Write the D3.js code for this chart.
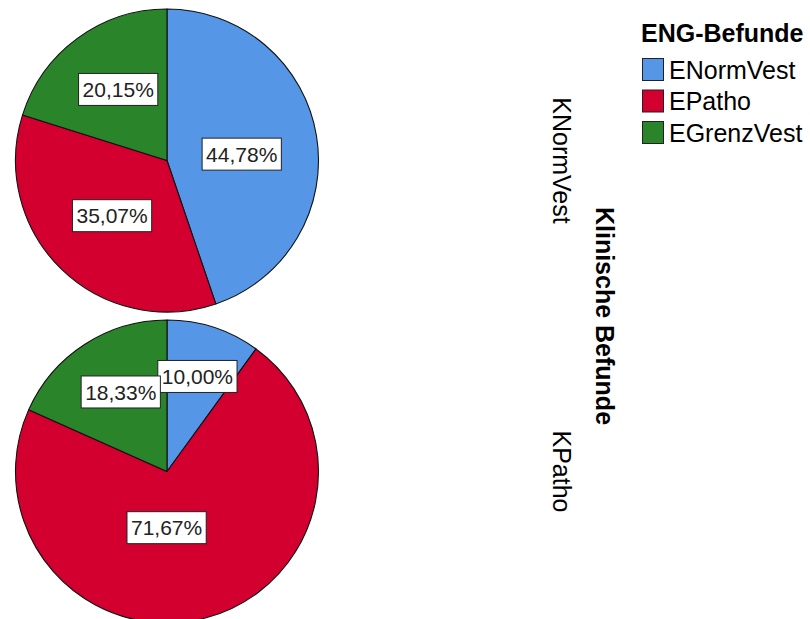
<!DOCTYPE html>
<html>
<head>
<meta charset="utf-8">
<script src="https://cdn.jsdelivr.net/npm/d3@7"></script>
<style>
  html, body { margin: 0; padding: 0; background: #fff; }
  svg { display: block; font-family: Arial, "Liberation Sans", sans-serif; }
</style>
</head>
<body>
<svg id="chart" width="810" height="619"></svg>
<script>
// Clinical findings (one pie per row) and ENG findings (slices)
const clinicalGroups = ["KNormVest", "KPatho"];
const engCategories = ["ENormVest", "EPatho", "EGrenzVest"];
// Percent shares per clinical group, in engCategories order
const sharesKNormVest = [44.78, 35.07, 20.15];
const sharesKPatho = [10.00, 71.67, 18.33];
const groupShares = [sharesKNormVest, sharesKPatho];

const legendTitle = "ENG-Befunde";
const rowAxisTitle = "Klinische Befunde";

// Styling / layout
const colors = ["#5596e6", "#d3002f", "#2a852a"];
const radius = 151.5;
const pieCx = 167;
// small offsets that keep the value boxes from colliding
const labelNudge = [
  [[0, 6], [-2, 1], [-4, -10]],
  [[7, -23], [-20, -17], [-5, -16]]
];

const svg = d3.select("#chart");

const color = d3.scaleOrdinal().domain(engCategories).range(colors);
const rowY = d3.scalePoint().domain(clinicalGroups).range([160.5, 471.5]);

const pie = d3.pie().sort(null).value(d => d.value);
const arc = d3.arc().innerRadius(0).outerRadius(radius);
const labelArc = d3.arc().innerRadius(radius * 0.5).outerRadius(radius * 0.5);
const fmt = v => v.toFixed(2).replace(".", ",") + "%";

clinicalGroups.forEach((grp, gi) => {
  const data = engCategories.map((c, i) => ({ cat: c, value: groupShares[gi][i] }));
  const arcs = pie(data);
  const g = svg.append("g").attr("transform", `translate(${pieCx},${rowY(grp)})`);

  g.selectAll("path.slice")
    .data(arcs)
    .join("path")
    .attr("class", "slice")
    .attr("d", arc)
    .attr("fill", d => color(d.data.cat))
    .attr("stroke", "#111")
    .attr("stroke-width", 1.1)
    .attr("stroke-linejoin", "round");

  // value labels in white boxes
  arcs.forEach((a, i) => {
    const [cx, cy] = labelArc.centroid(a);
    const [nx, ny] = labelNudge[gi][i];
    const lg = g.append("g").attr("transform", `translate(${cx + nx},${cy + ny})`);
    const rect = lg.append("rect").attr("fill", "#fff").attr("stroke", "#222").attr("stroke-width", 1);
    const t = lg.append("text")
      .attr("text-anchor", "middle")
      .attr("dy", "0.36em")
      .attr("font-size", 21)
      .attr("fill", "#222")
      .text(fmt(a.data.value));
    const bb = t.node().getBBox();
    const w = bb.width + 8, h = 32;
    rect.attr("x", -w / 2).attr("y", -h / 2).attr("width", w).attr("height", h);
  });

  // row category label, rotated
  svg.append("text")
    .attr("transform", `translate(562,${rowY(grp)}) rotate(90)`)
    .attr("text-anchor", "middle")
    .attr("dy", "0.35em")
    .attr("font-size", 25)
    .attr("fill", "#000")
    .text(grp);
});

// row axis title
svg.append("text")
  .attr("transform", `translate(605,${(rowY(clinicalGroups[0]) + rowY(clinicalGroups[1])) / 2}) rotate(90)`)
  .attr("text-anchor", "middle")
  .attr("dy", "0.35em")
  .attr("font-size", 25)
  .attr("font-weight", "bold")
  .attr("fill", "#000")
  .text(rowAxisTitle);

// legend
const legend = svg.append("g").attr("transform", "translate(641,0)");
legend.append("text")
  .attr("x", 0).attr("y", 42)
  .attr("font-size", 25)
  .attr("font-weight", "bold")
  .attr("fill", "#000")
  .text(legendTitle);

const items = legend.selectAll("g.item")
  .data(engCategories)
  .join("g")
  .attr("class", "item")
  .attr("transform", (d, i) => `translate(0,${58 + i * 31.5})`);

items.append("rect")
  .attr("x", 1.5).attr("y", 0.5)
  .attr("width", 21).attr("height", 22)
  .attr("fill", d => color(d))
  .attr("stroke", "#222")
  .attr("stroke-width", 1);

items.append("text")
  .attr("x", 28).attr("y", 11.5)
  .attr("dy", "0.36em")
  .attr("font-size", 25)
  .attr("fill", "#000")
  .text(d => d);
</script>
</body>
</html>
